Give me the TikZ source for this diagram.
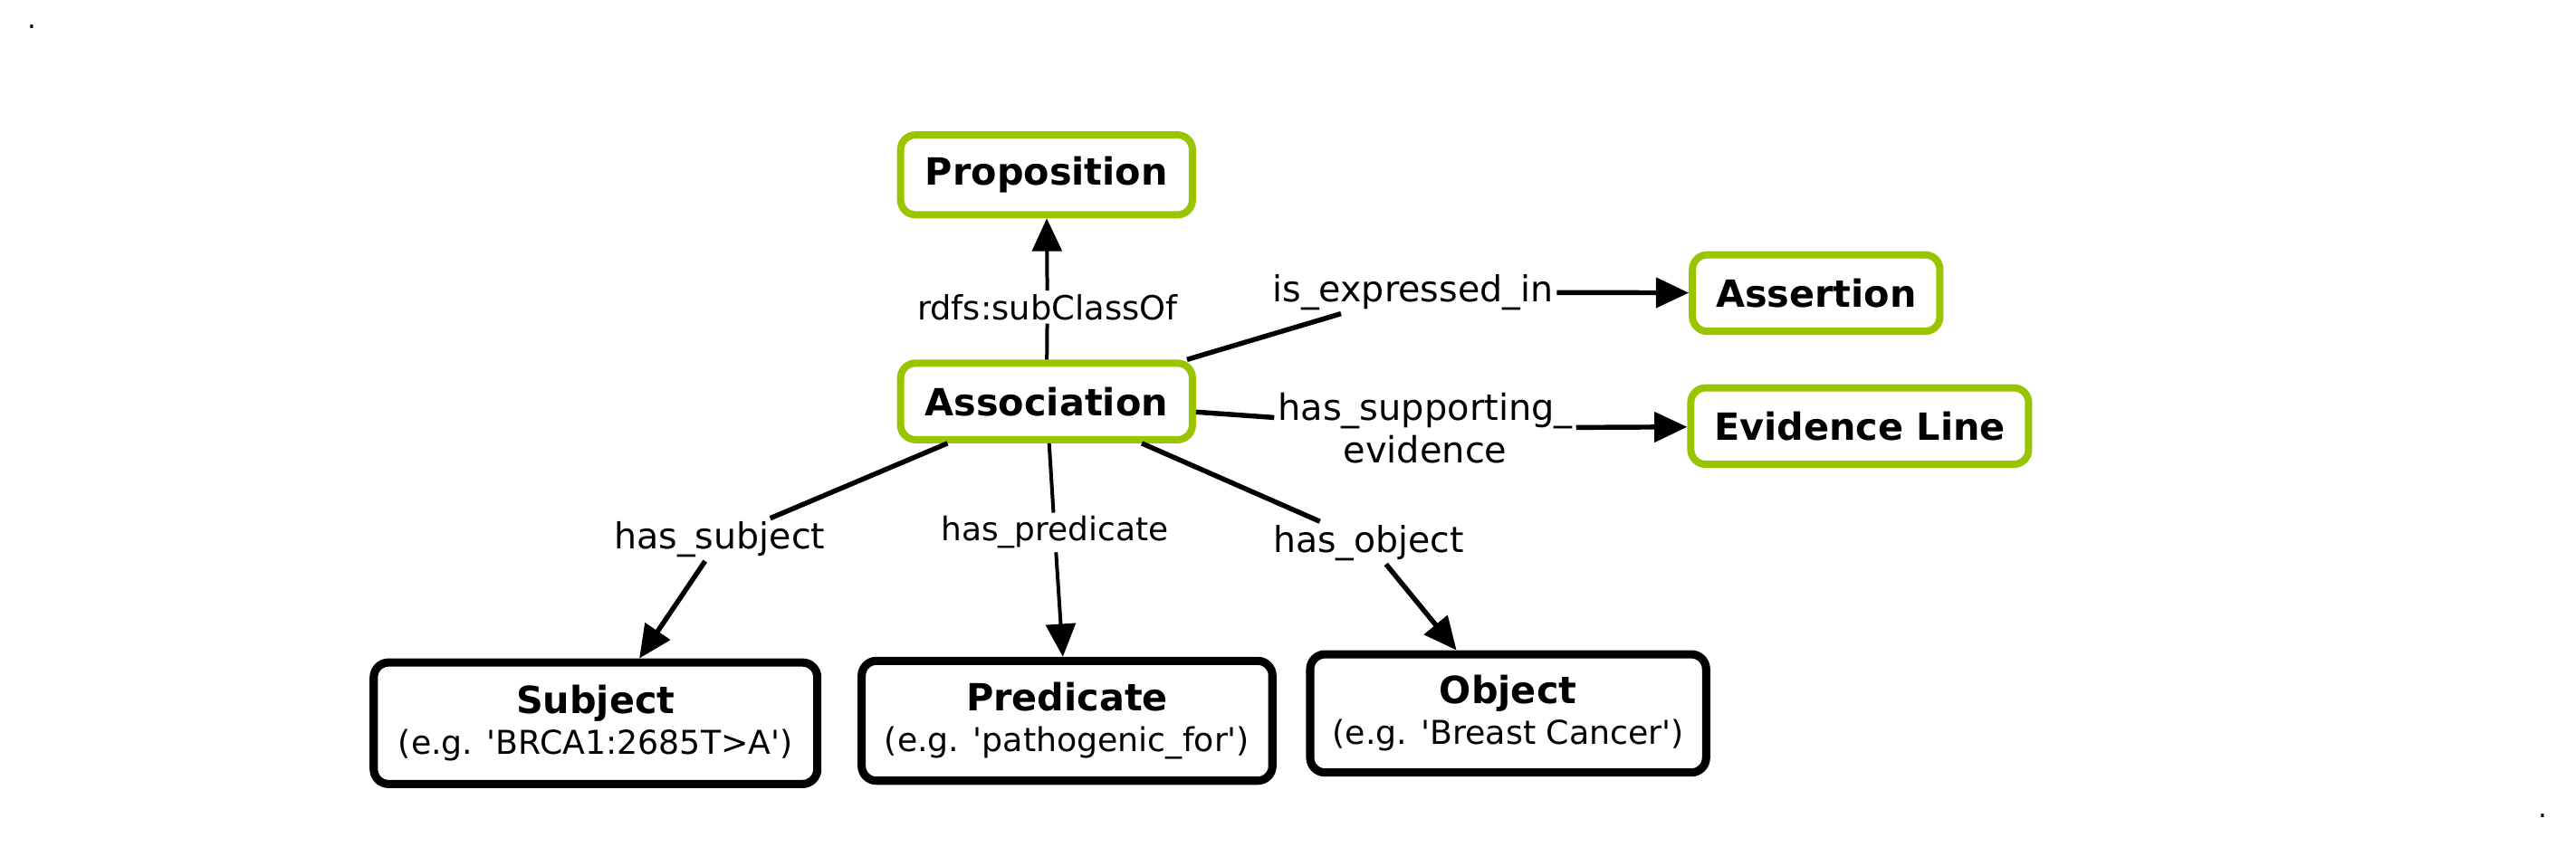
\documentclass[tikz,border=0pt]{standalone}
\usepackage{fontspec}
\setmainfont{DejaVu Sans}
\usetikzlibrary{arrows.meta}
\definecolor{lgreen}{HTML}{99C400}
\newcommand{\sq}{\textquotesingle}
\begin{document}
\begin{tikzpicture}[x=1pt,y=-1pt,
  gbox/.style={draw=lgreen, line width=4.4pt, rounded corners=9pt, fill=white, inner sep=0pt,
    font=\fontsize{22.8}{26}\selectfont\bfseries},
  bbox/.style={draw=black, line width=5pt, rounded corners=9pt, fill=white, inner sep=0pt,
    align=center, font=\fontsize{20}{24.8}\selectfont},
  lbl/.style={inner sep=2pt, align=center, font=\fontsize{#1}{25.7}\selectfont},
  thickline/.style={line width=3pt},
  thinline/.style={line width=2.2pt},
  tip/.style={-{Triangle[length=20pt,width=18pt]}},
  dotmark/.style={inner sep=0pt, anchor=base, font=\fontsize{17}{17}\selectfont}
]
\useasboundingbox (0,0) rectangle (1568,515.4);
\fill[white] (0,0) rectangle (1568,515.4);

% corner marks
\node[dotmark] (d1) at (19.7,17.6) {.};
\node[dotmark] (d2) at (1548,497.8) {.};

% green boxes
\node[gbox, minimum width=177.6pt, minimum height=48.6pt] (prop) at (637,106.5) {Proposition};
\node[gbox, minimum width=177.6pt, minimum height=46.6pt] (assoc) at (637,244.5) {Association};
\node[gbox, minimum width=150.6pt, minimum height=46.6pt] (assert) at (1105.5,178.5) {Assertion};
\node[gbox, minimum width=205.6pt, minimum height=46.6pt] (evid) at (1132,259.5) {Evidence Line};

% black boxes
\node[bbox, minimum width=270pt, minimum height=74pt] (subj) at (362.5,440.5)
  {{\fontsize{22.8}{24.8}\selectfont\bfseries Subject}\\(e.g. \sq BRCA1:2685T>A\sq)};
\node[bbox, minimum width=250pt, minimum height=73pt] (pred) at (649.5,439)
  {{\fontsize{22.8}{24.8}\selectfont\bfseries Predicate}\\(e.g. \sq pathogenic\_for\sq)};
\node[bbox, minimum width=241pt, minimum height=72pt] (obj) at (918,434.5)
  {{\fontsize{22.8}{24.8}\selectfont\bfseries Object}\\(e.g. \sq Breast Cancer\sq)};

% edge labels
\node[lbl=20.3] (l1) at (637.5,187) {rdfs:subClassOf};
\node[lbl=21.8] (l2) at (860,178) {is\_expressed\_in};
\node[lbl=22] (l3) at (867.5,260.8) {has\_supporting\_\\evidence};
\node[lbl=21.8] (l4) at (438,328.7) {has\_subject};
\node[lbl=19.8] (l5) at (642,324.3) {has\_predicate};
\node[lbl=21.7] (l6) at (833,330.6) {has\_object};

% connectors
\draw[thinline] (assoc) -- (l1);
\draw[thinline, tip] (l1) -- (prop);
\draw[thickline] (assoc) -- (l2);
\draw[thickline, tip] (l2) -- (assert);
\draw[thickline] (assoc) -- (l3);
\draw[thickline, tip] (l3) -- (evid);
\draw[thickline] (assoc) -- (l4);
\draw[thickline, tip] (l4) -- (subj);
\draw[thinline] (assoc) -- (l5);
\draw[thinline, tip] (l5) -- (pred);
\draw[thickline] (assoc) -- (l6);
\draw[thickline, tip] (l6) -- (obj);
\end{tikzpicture}
\end{document}
